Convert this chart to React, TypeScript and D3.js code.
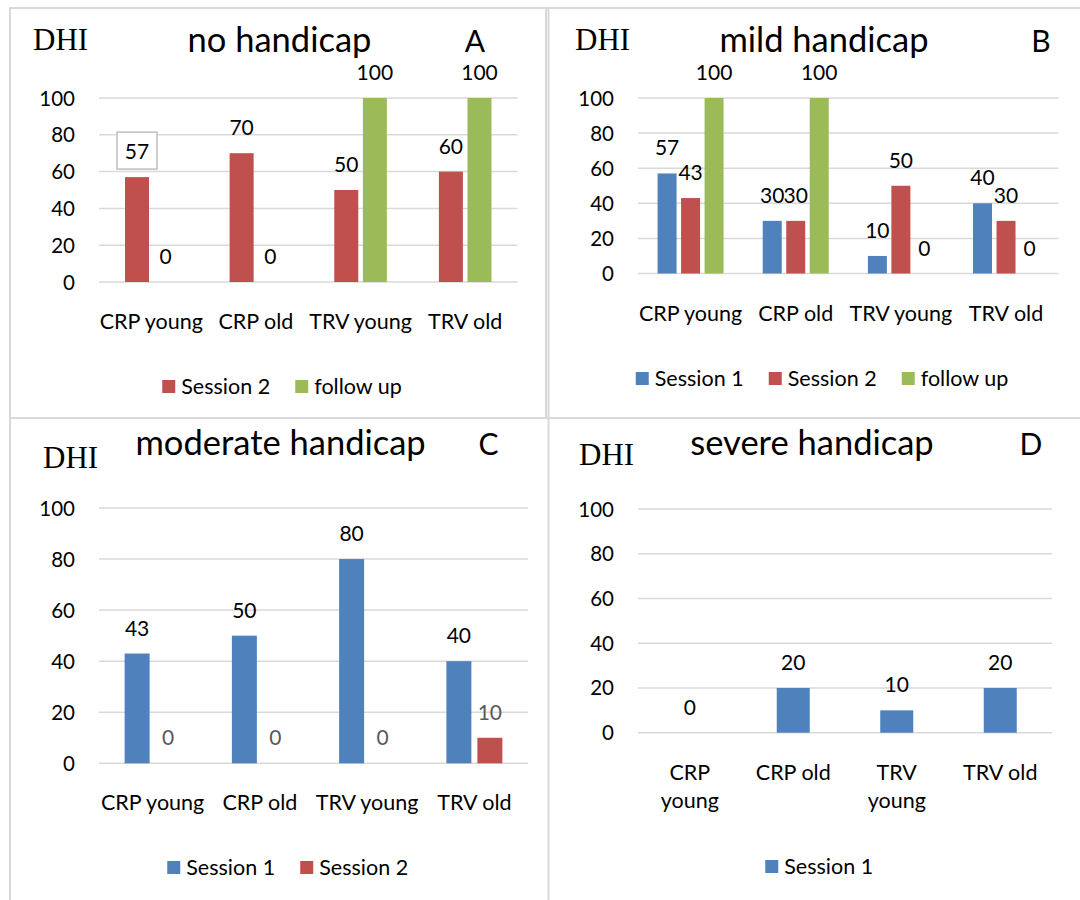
import React from "react";
import * as d3 from "d3";

// ---------- data ----------
const categories = ["CRP young", "CRP old", "TRV young", "TRV old"];
const yTicks = [0, 20, 40, 60, 80, 100];

const seriesNames = ["Session 1", "Session 2", "follow up"];
const seriesColors = ["#4f81bd", "#c0504d", "#9bbb59"];

// Panel A: no handicap
const noSession2 = [57, 70, 50, 60];
const noFollowUp = [0, 0, 100, 100];
// Panel B: mild handicap
const mildSession1 = [57, 30, 10, 40];
const mildSession2 = [43, 30, 50, 30];
const mildFollowUp = [100, 100, 0, 0];
// Panel C: moderate handicap
const modSession1 = [43, 50, 80, 40];
const modSession2 = [0, 0, 0, 10];
// Panel D: severe handicap
const sevSession1 = [0, 20, 10, 20];

type Series = { name: string; color: string; values: number[]; labelColor?: string };
type Panel = {
  title: string;
  letter: string;
  series: Series[];
  x0: number; x1: number; yTop: number; yBase: number;
  bw: number; step: number;
  titleX: number; titleY: number; letterX: number;
  dhiX: number; dhiY: number;
  legendY: number; legendCx: number;
  wrapLabels?: boolean;
  boxedFirst?: boolean;
};

const FONT = "Lato, 'Open Sans', sans-serif";

const panels: Panel[] = [
  {
    title: "no handicap", letter: "A",
    series: [
      { name: seriesNames[1], color: seriesColors[1], values: noSession2 },
      { name: seriesNames[2], color: seriesColors[2], values: noFollowUp },
    ],
    x0: 99, x1: 517.5, yTop: 98, yBase: 282, bw: 24, step: 28.6,
    titleX: 279.5, titleY: 52, letterX: 475, dhiX: 33, dhiY: 50,
    legendY: 386.5, legendCx: 282.5, boxedFirst: true,
  },
  {
    title: "mild handicap", letter: "B",
    series: [
      { name: seriesNames[0], color: seriesColors[0], values: mildSession1 },
      { name: seriesNames[1], color: seriesColors[1], values: mildSession2 },
      { name: seriesNames[2], color: seriesColors[2], values: mildFollowUp },
    ],
    x0: 638, x1: 1058.6, yTop: 98, yBase: 273.5, bw: 19, step: 23.5,
    titleX: 824, titleY: 52, letterX: 1041, dhiX: 575, dhiY: 50,
    legendY: 378.5, legendCx: 822.5,
  },
  {
    title: "moderate handicap", letter: "C",
    series: [
      { name: seriesNames[0], color: seriesColors[0], values: modSession1 },
      { name: seriesNames[1], color: seriesColors[1], values: modSession2, labelColor: "#595959" },
    ],
    x0: 99, x1: 528, yTop: 508, yBase: 763.3, bw: 25, step: 31,
    titleX: 280.6, titleY: 455, letterX: 488.5, dhiX: 43, dhiY: 468,
    legendY: 867.5, legendCx: 287.5,
  },
  {
    title: "severe handicap", letter: "D",
    series: [
      { name: seriesNames[0], color: seriesColors[0], values: sevSession1 },
    ],
    x0: 638, x1: 1052, yTop: 509, yBase: 732.7, bw: 33, step: 0,
    titleX: 812, titleY: 455, letterX: 1031, dhiX: 579, dhiY: 465,
    legendY: 866.5, legendCx: 819, wrapLabels: true,
  },
];

function PanelChart({ p }: { p: Panel }) {
  const x = d3.scaleBand<string>().domain(categories).range([p.x0, p.x1]).padding(0);
  const y = d3.scaleLinear().domain([0, 100]).range([p.yBase, p.yTop]);
  const n = p.series.length;
  const groupW = p.bw + (n - 1) * p.step;
  const legendItemW = 107.5;
  const legendGap = 25.5;
  const legendTotal = n * legendItemW + (n - 1) * legendGap;
  const legendStart = p.legendCx - legendTotal / 2;

  return (
    <g>
      {yTicks.map((t) => (
        <line key={t} x1={p.x0} x2={p.x1} y1={y(t)} y2={y(t)} stroke="#d9d9d9" strokeWidth={1.5} />
      ))}
      {yTicks.map((t) => (
        <text key={"t" + t} x={p.x0 - 24} y={y(t) + 7.5} textAnchor="end" fontSize={20.5} fill="#000" fontFamily={FONT}>
          {t}
        </text>
      ))}
      {p.series.map((s, si) =>
        s.values.map((v, ci) => {
          const cx = (x(categories[ci]) as number) + x.bandwidth() / 2 - groupW / 2 + si * p.step + p.bw / 2;
          return (
            <g key={s.name + ci}>
              {v > 0 && (
                <rect x={cx - p.bw / 2} y={y(v)} width={p.bw} height={p.yBase - y(v)} fill={s.color} />
              )}
              {p.boxedFirst && si === 0 && ci === 0 && (
                <rect x={cx - 20} y={y(v) - 45} width={40} height={37} fill="#fff" stroke="#bfbfbf" strokeWidth={1.5} />
              )}
              <text x={cx} y={y(v) - 18} textAnchor="middle" fontSize={21} fill={s.labelColor || "#000"} fontFamily={FONT}>
                {v}
              </text>
            </g>
          );
        })
      )}
      {categories.map((c) => {
        const cx = (x(c) as number) + x.bandwidth() / 2;
        const parts = c.split(" ");
        if (p.wrapLabels && c.endsWith("young")) {
          return (
            <text key={c} x={cx} y={p.yBase + 47} textAnchor="middle" fontSize={21.5} fill="#000" fontFamily={FONT}>
              <tspan x={cx}>{parts[0]}</tspan>
              <tspan x={cx} dy={28}>{parts[1]}</tspan>
            </text>
          );
        }
        return (
          <text key={c} x={cx} y={p.yBase + 47} textAnchor="middle" fontSize={21.5} fill="#000" fontFamily={FONT}>
            {c}
          </text>
        );
      })}
      <text x={p.titleX} y={p.titleY} textAnchor="middle" fontSize={34.5} fill="#000" fontFamily={FONT}>
        {p.title}
      </text>
      <text x={p.letterX} y={p.titleY} textAnchor="middle" fontSize={30} fill="#000" fontFamily={FONT}>
        {p.letter}
      </text>
      <text x={p.dhiX} y={p.dhiY} fontSize={31} fill="#000" fontFamily="'Liberation Serif', 'Times New Roman', serif">
        DHI
      </text>
      {p.series.map((s, i) => {
        const lx = legendStart + i * (legendItemW + legendGap);
        return (
          <g key={"lg" + s.name}>
            <rect x={lx} y={p.legendY - 6.5} width={13} height={13} fill={s.color} />
            <text x={lx + 19} y={p.legendY + 7} fontSize={21.5} fill="#000" fontFamily={FONT}>
              {s.name}
            </text>
          </g>
        );
      })}
    </g>
  );
}

export default function App() {
  return (
    <svg width={1080} height={900} style={{ position: "absolute", left: 0, top: 0, background: "#fff" }}>
      <rect x={0} y={0} width={1080} height={900} fill="#fff" />
      <g stroke="#d9d9d9" strokeWidth={2} fill="none">
        <line x1={9} x2={1080} y1={8} y2={8} />
        <line x1={10} x2={10} y1={7} y2={900} />
        <line x1={546} x2={546} y1={8} y2={418} />
        <line x1={548.5} x2={548.5} y1={8} y2={900} />
        <line x1={9} x2={1080} y1={418} y2={418} />
      </g>
      {panels.map((p) => (
        <PanelChart key={p.letter} p={p} />
      ))}
    </svg>
  );
}
